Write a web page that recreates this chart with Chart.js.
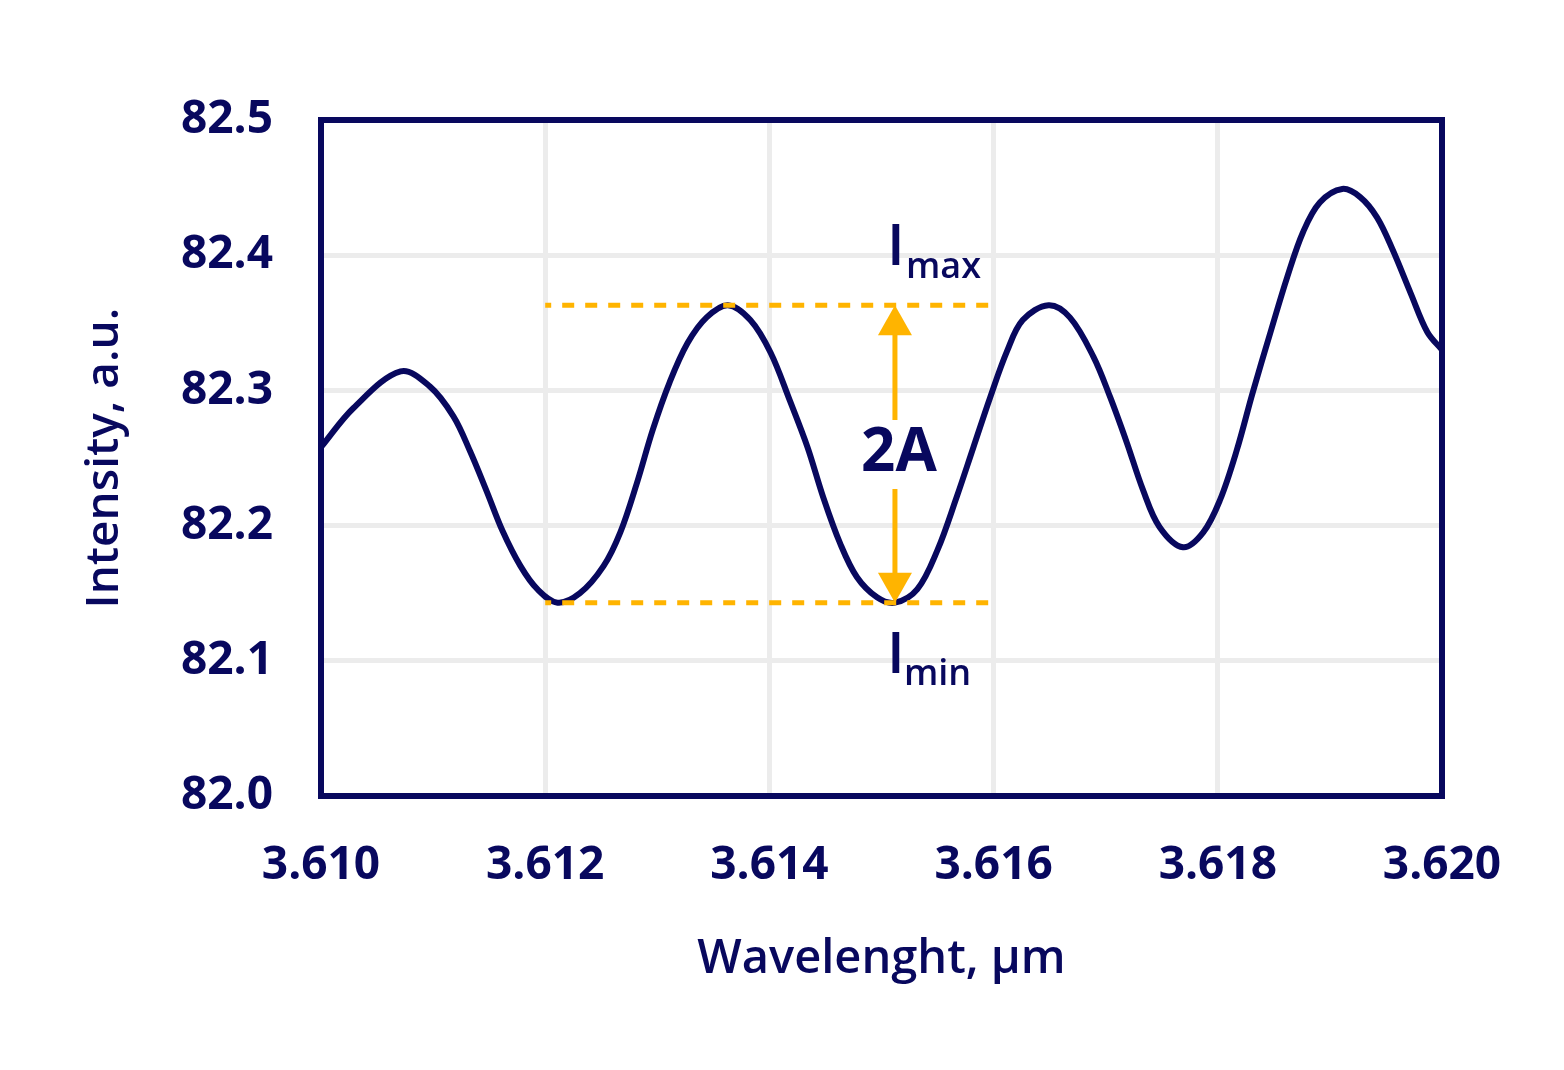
<!DOCTYPE html>
<html>
<head>
<meta charset="utf-8">
<script src="https://cdn.jsdelivr.net/npm/chart.js@4.4.1/dist/chart.umd.min.js"></script>
<style>
  html, body { margin: 0; padding: 0; background: #ffffff; }
  #wrap { width: 1564px; height: 1070px; }
</style>
</head>
<body>
<div id="wrap"><canvas id="chart" width="1564" height="1070"></canvas></div>
<script>
// wavelength (µm) and intensity (a.u.)
const wavelength = [
  3.61000, 3.61029, 3.61071, 3.61097, 3.61118, 3.61133, 3.61148,
  3.61162, 3.61178, 3.61193, 3.61211, 3.61231, 3.61252, 3.61267, 3.61282,
  3.61296, 3.61311, 3.61327, 3.61344, 3.61363, 3.61383, 3.61401, 3.61418,
  3.61434, 3.61448, 3.61463, 3.61478, 3.61496, 3.61512, 3.61532, 3.61550,
  3.61567, 3.61582, 3.61597, 3.61612, 3.61626, 3.61649, 3.61668, 3.61689,
  3.61704, 3.61719, 3.61733, 3.61748, 3.61769, 3.61787, 3.61802, 3.61817,
  3.61831, 3.61847, 3.61862, 3.61876, 3.61891, 3.61911, 3.61927, 3.61942,
  3.61956, 3.61972, 3.61987, 3.62000
];
const intensity = [
  82.258, 82.287, 82.314, 82.303, 82.281, 82.255, 82.225,
  82.196, 82.170, 82.153, 82.143, 82.150, 82.170, 82.195, 82.232,
  82.271, 82.306, 82.335, 82.354, 82.363, 82.352, 82.328, 82.293,
  82.258, 82.221, 82.187, 82.162, 82.147, 82.143, 82.153, 82.182,
  82.221, 82.258, 82.295, 82.329, 82.352, 82.363, 82.354, 82.325,
  82.295, 82.261, 82.227, 82.199, 82.184, 82.195, 82.219, 82.256,
  82.298, 82.343, 82.384, 82.417, 82.439, 82.449, 82.443, 82.428,
  82.404, 82.372, 82.343, 82.330
];

// annotation levels
const iMax = 82.363;
const iMin = 82.143;
const markRange = [3.612, 3.616];
const arrowX = 3.61512;

const xTicks = [3.610, 3.612, 3.614, 3.616, 3.618, 3.620];
const yTicks = [82.0, 82.1, 82.2, 82.3, 82.4, 82.5];

const NAVY = '#08085e';
const ORANGE = '#ffb400';
const FONT = "'Open Sans', 'Liberation Sans', sans-serif";

const framePlugin = {
  id: 'frame',
  afterDraw(chart) {
    const { ctx, chartArea: a, scales } = chart;
    const x = scales.x, y = scales.y;
    const px = x.getPixelForValue(arrowX);
    const yTop = y.getPixelForValue(iMax);
    const yBot = y.getPixelForValue(iMin);
    const yMid = y.getPixelForValue((iMax + iMin) / 2);
    const head = 30, half = 17;

    ctx.save();
    // arrow shaft, broken around the label
    ctx.strokeStyle = ORANGE;
    ctx.lineWidth = 5;
    ctx.beginPath();
    ctx.moveTo(px, yTop + head - 2);
    ctx.lineTo(px, yMid - 34);
    ctx.moveTo(px, yMid + 35);
    ctx.lineTo(px, yBot - head + 2);
    ctx.stroke();
    // arrow heads
    ctx.fillStyle = ORANGE;
    ctx.beginPath();
    ctx.moveTo(px, yTop);
    ctx.lineTo(px - half, yTop + head);
    ctx.lineTo(px + half, yTop + head);
    ctx.closePath();
    ctx.fill();
    ctx.beginPath();
    ctx.moveTo(px, yBot);
    ctx.lineTo(px - half, yBot - head);
    ctx.lineTo(px + half, yBot - head);
    ctx.closePath();
    ctx.fill();

    // labels
    ctx.fillStyle = NAVY;
    ctx.textAlign = 'center';
    ctx.textBaseline = 'middle';
    ctx.font = "700 60px " + FONT;
    ctx.fillText('2A', px + 4, yMid);

    ctx.textAlign = 'left';
    ctx.textBaseline = 'alphabetic';
    ctx.font = "600 58px " + FONT;
    ctx.fillText('I', px - 8, yTop - 40);
    ctx.fillText('I', px - 8, yBot + 70);
    ctx.font = "600 36px " + FONT;
    ctx.fillText('max', px + 11, yTop - 27);
    ctx.fillText('min', px + 9, yBot + 82);

    // plot frame
    ctx.strokeStyle = NAVY;
    ctx.lineWidth = 6;
    ctx.strokeRect(a.left, a.top, a.right - a.left, a.bottom - a.top);
    ctx.restore();
  }
};

new Chart(document.getElementById('chart'), {
  type: 'line',
  data: {
    datasets: [
      {
        label: 'Intensity',
        data: wavelength.map((w, i) => ({ x: w, y: intensity[i] })),
        borderColor: NAVY,
        borderWidth: 6,
        pointRadius: 0,
        fill: false,
        tension: 0.35,
        order: 2
      },
      {
        label: 'Imax',
        data: markRange.map(w => ({ x: w, y: iMax })),
        borderColor: ORANGE,
        borderWidth: 5,
        borderDash: [12, 11],
        borderDashOffset: 6,
        pointRadius: 0,
        order: 1
      },
      {
        label: 'Imin',
        data: markRange.map(w => ({ x: w, y: iMin })),
        borderColor: ORANGE,
        borderWidth: 5,
        borderDash: [12, 11],
        borderDashOffset: 6,
        pointRadius: 0,
        order: 1
      }
    ]
  },
  options: {
    responsive: false,
    animation: false,
    devicePixelRatio: 1,
    layout: { padding: { top: 120, right: 122, left: 0, bottom: 0 } },
    plugins: { legend: { display: false }, tooltip: { enabled: false } },
    scales: {
      x: {
        type: 'linear',
        min: 3.610,
        max: 3.620,
        afterBuildTicks: s => { s.ticks = xTicks.map(v => ({ value: v })); },
        afterFit: s => { s.height = 274; },
        grid: { color: '#ececec', lineWidth: 5, drawTicks: false },
        border: { display: false },
        ticks: {
          color: NAVY,
          padding: 42,
          font: { family: FONT, size: 46, weight: '700' },
          callback: v => v.toFixed(3)
        },
        title: {
          display: true,
          text: 'Wavelenght, µm',
          color: NAVY,
          font: { family: FONT, size: 47, weight: '600' },
          padding: { top: 0, bottom: 82 }
        }
      },
      y: {
        min: 82.0,
        max: 82.5,
        afterBuildTicks: s => { s.ticks = yTicks.map(v => ({ value: v })); },
        afterFit: s => { s.width = 321; },
        grid: { color: '#ececec', lineWidth: 5, drawTicks: false },
        border: { display: false },
        ticks: {
          color: NAVY,
          padding: 48,
          font: { family: FONT, size: 46, weight: '700' },
          callback: v => v.toFixed(1)
        },
        title: {
          display: true,
          text: 'Intensity, a.u.',
          color: NAVY,
          font: { family: FONT, size: 46, weight: '600' },
          padding: { top: 77, bottom: 0 }
        }
      }
    }
  },
  plugins: [framePlugin]
});
</script>
</body>
</html>
